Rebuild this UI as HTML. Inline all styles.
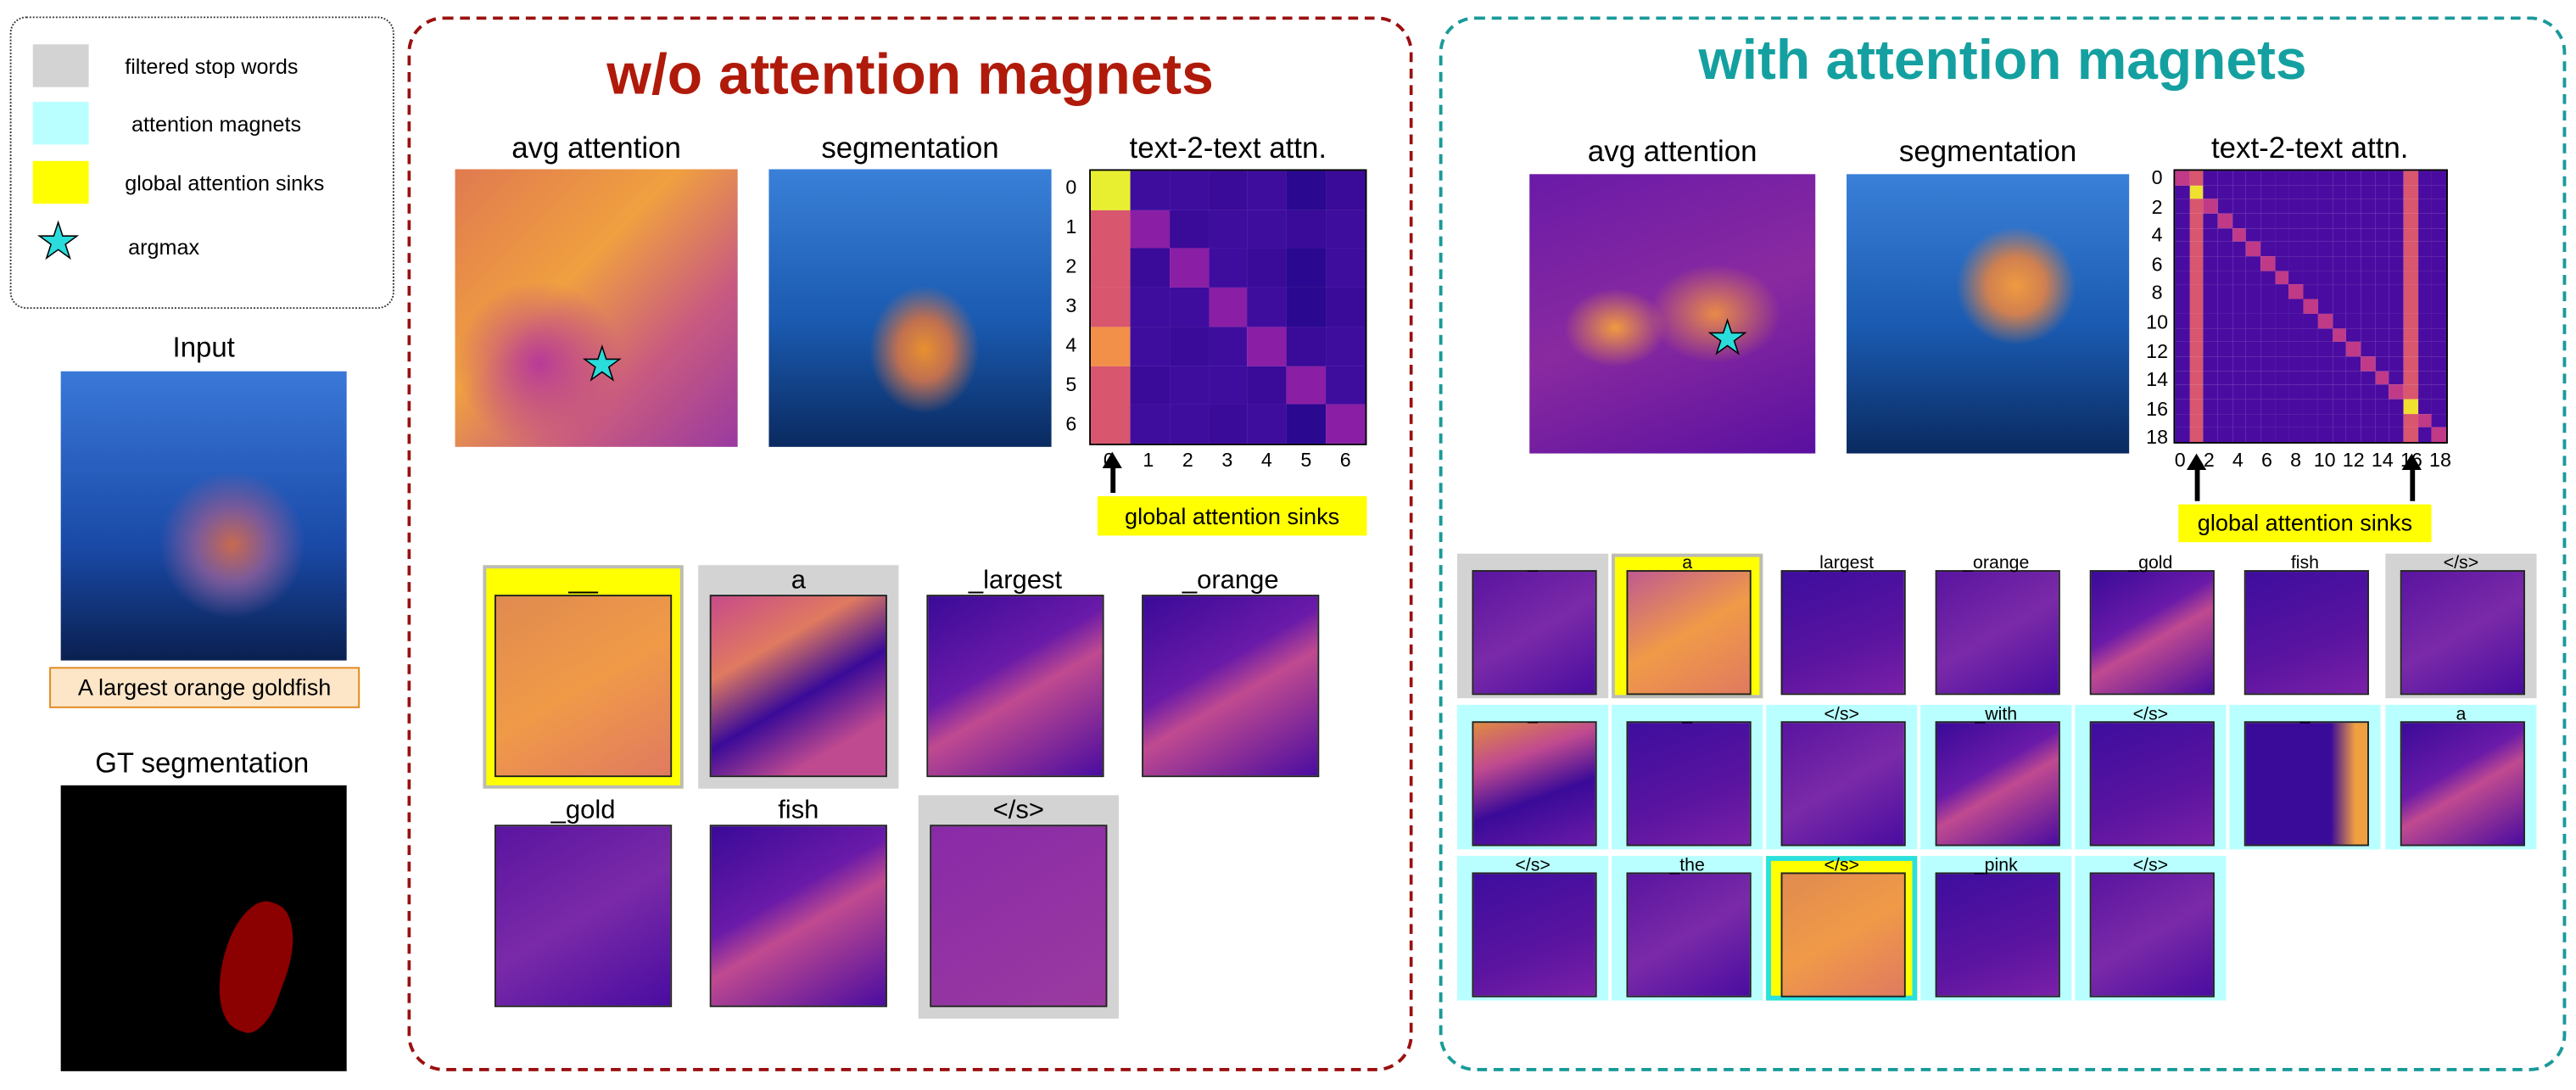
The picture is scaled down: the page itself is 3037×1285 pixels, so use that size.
<!DOCTYPE html>
<html><head><meta charset="utf-8"><style>
body{margin:0;background:#fff;width:3037px;height:1285px;overflow:hidden}
#w{position:absolute;left:0;top:0;width:1568px;height:663px;transform:scale(1.93686);transform-origin:0 0;font-family:"Liberation Sans",sans-serif}
.a{position:absolute}
.t{position:absolute;text-align:center;color:#000}
.hm{position:absolute;border:1px solid #222;box-sizing:border-box}
</style></head><body><div id="w">
<div class="a" style="left:6px;top:10px;width:232px;height:176px;border:1.5px dotted #333;border-radius:10px"></div>
<div class="a" style="left:20px;top:27px;width:34px;height:26px;background:#d3d3d3"></div>
<div class="a" style="left:20px;top:62px;width:34px;height:26px;background:#b9ffff"></div>
<div class="a" style="left:20px;top:98px;width:34px;height:26px;background:#ffff00"></div>
<div class="t" style="left:22px;top:133px;font-size:30px;color:#2bdcdc;-webkit-text-stroke:0.8px #000;line-height:30px">★</div>
<div class="a" style="left:76px;top:33px;font-size:13px">filtered stop words</div>
<div class="a" style="left:80px;top:68px;font-size:13px">attention magnets</div>
<div class="a" style="left:76px;top:104px;font-size:13px">global attention sinks</div>
<div class="a" style="left:78px;top:143px;font-size:13px">argmax</div>
<div class="t" style="left:37px;width:174px;top:202px;font-size:17px">Input</div>
<div class="a" style="left:37px;top:226px;width:174px;height:176px;background:radial-gradient(ellipse at 60% 60%,#c86a50 0,#7a5a9a 15%,transparent 30%),linear-gradient(180deg,#3a78d8,#1a4aa8 60%,#0a2050)"></div>
<div class="a" style="left:30px;top:406px;width:187px;height:23px;background:#fde6c8;border:1.5px solid #e08a20;font-size:14px;line-height:23px;text-align:center">A largest orange goldfish</div>
<div class="t" style="left:20px;width:206px;top:455px;font-size:17px">GT segmentation</div>
<div class="a" style="left:37px;top:478px;width:174px;height:174px;background:#000"></div>
<div class="a" style="left:135px;top:548px;width:40px;height:80px;background:#8b0000;border-radius:40% 50% 30% 60%;transform:rotate(20deg)"></div>
<div class="a" style="left:248px;top:10px;width:612px;height:642px;border:2px dashed #9b1010;border-radius:22px;box-sizing:border-box"></div>
<div class="t" style="left:248px;width:612px;top:26px;font-size:35px;font-weight:bold;color:#b01a0a">w/o attention magnets</div>
<div class="t" style="left:277px;width:172px;top:80px;font-size:18px">avg attention</div>
<div class="t" style="left:468px;width:172px;top:80px;font-size:18px">segmentation</div>
<div class="t" style="left:645px;width:205px;top:80px;font-size:18px">text-2-text attn.</div>
<div class="a" style="left:277px;top:103px;width:172px;height:169px;background:radial-gradient(ellipse at 30% 70%,#b83a98 0,transparent 30%),linear-gradient(135deg,#e07a50,#f0a040 40%,#c85a80 70%,#9a3aa0)"></div>
<div class="t" style="left:354px;top:208px;font-size:28px;color:#2bdcdc;-webkit-text-stroke:0.8px #000;line-height:28px">★</div>
<div class="a" style="left:468px;top:103px;width:172px;height:169px;background:radial-gradient(ellipse at 55% 65%,#e89030 0,#c07050 12%,transparent 25%),linear-gradient(180deg,#3a80d8,#1a5ab0 55%,#0a2a60)"></div>
<div id="m1" class="a" style="left:663px;top:103px;width:169px;height:168px;border:1px solid #000;box-sizing:border-box;display:grid;grid-template-columns:repeat(7,1fr)"></div>
<div class="a" style="left:668px;top:302px;width:164px;height:24px;background:#ffff00;font-size:14px;line-height:24px;text-align:center">global attention sinks</div>
<div class="a" style="left:876px;top:10px;width:686px;height:642px;border:2px dashed #1a9a9a;border-radius:22px;box-sizing:border-box"></div>
<div class="t" style="left:876px;width:686px;top:18px;font-size:34px;font-weight:bold;color:#14a0a0">with attention magnets</div>
<div class="t" style="left:931px;width:174px;top:82px;font-size:18px">avg attention</div>
<div class="t" style="left:1124px;width:172px;top:82px;font-size:18px">segmentation</div>
<div class="t" style="left:1296px;width:220px;top:80px;font-size:18px">text-2-text attn.</div>
<div class="a" style="left:931px;top:106px;width:174px;height:170px;background:radial-gradient(ellipse at 30% 55%,#f09a40 0,transparent 18%),radial-gradient(ellipse at 65% 50%,#e88a48 0,transparent 25%),linear-gradient(160deg,#6a1aa8,#8a2aa0 50%,#5a10a0)"></div>
<div class="t" style="left:1039px;top:192px;font-size:28px;color:#2bdcdc;-webkit-text-stroke:0.8px #000;line-height:28px">★</div>
<div class="a" style="left:1124px;top:106px;width:172px;height:170px;background:radial-gradient(ellipse at 60% 40%,#f09a40 0,#d08050 12%,transparent 25%),linear-gradient(180deg,#3a80d8,#1a5ab0 55%,#0a2a60)"></div>
<div id="m2" class="a" style="left:1323px;top:103px;width:167px;height:167px;border:1px solid #000;box-sizing:border-box;display:grid;grid-template-columns:repeat(19,1fr)"></div>
<div class="a" style="left:1326px;top:307px;width:154px;height:23px;background:#ffff00;font-size:14px;line-height:23px;text-align:center">global attention sinks</div>
<div id="extra"></div>
</div>
<script>
function cell(c){var d=document.createElement('div');d.style.background=c;return d}
var m1=document.getElementById('m1');
for(var r=0;r<7;r++)for(var c=0;c<7;c++){var col='#3e0d9e';if(c==0)col=['#e8ef30','#d8566e','#d8566e','#d8566e','#f2904a','#d8566e','#d8566e'][r];else if(r==c)col='#8a1fa6';else if((r+c)%3==0)col='#3a0a98';else if(c==5)col='#2a0890';m1.appendChild(cell(col))}
var m2=document.getElementById('m2');
for(var r=0;r<19;r++)for(var c=0;c<19;c++){var col='#4a0ca0';if(c==1||c==16){col=(r==1&&c==1)||(r==16&&c==16)?'#f0e030':'#d8566e'}else if(r==c)col='#c03a88';m2.appendChild(cell(col))}
var ex=document.getElementById('extra'),h='';
function T(x,y,w,s,t){h+='<div class="t" style="left:'+x+'px;top:'+y+'px;width:'+w+'px;font-size:'+s+'px">'+t+'</div>'}
for(var i=0;i<7;i++){T(645,103+i*24+4,14,12,i);T(663+i*24+5,273,14,12,i)}
for(var i=0;i<19;i+=2){T(1305,103+i*8.8-2,16,12,i);T(1323+i*8.8-4,273,16,12,i)}
function arr(x,y1,y2){h+='<div class="a" style="left:'+(x-1.5)+'px;top:'+(y1+8)+'px;width:3px;height:'+(y2-y1-8)+'px;background:#000"></div><div class="a" style="left:'+(x-6)+'px;top:'+y1+'px;width:0;height:0;border-left:6px solid transparent;border-right:6px solid transparent;border-bottom:10px solid #000"></div>'}
arr(677,275,300);arr(1337,276,305);arr(1468,276,305);
var P=['linear-gradient(150deg,#5a14a0,#7a2aa8 50%,#4a0ca0)','linear-gradient(150deg,#3a0a98,#6a1aa8 40%,#c04a90 55%,#4a0ca0)','linear-gradient(160deg,#3e0d9e,#5a14a0 60%,#7a20a8)'];
function tile(x,y,w,hh,bg,lab,img,fs,border,g){h+='<div class="a" style="left:'+x+'px;top:'+y+'px;width:'+w+'px;height:'+hh+'px;background:'+bg+';'+(border||'')+';box-sizing:border-box"></div>';
var ix=x+w*g[0],iw=w*g[1],iy=y+hh*g[2],ih=hh*g[3];
h+='<div class="hm" style="left:'+ix+'px;top:'+iy+'px;width:'+iw+'px;height:'+ih+'px;background:'+img+'"></div>';
T(x,y+hh*0.005,w,fs,lab)}
var orange='linear-gradient(150deg,#e08a50,#f09a48 50%,#e07a60)';
var lw=[[294,344,'#ffff00','__',orange,'border:2px solid #bbb'],[425,344,'#d3d3d3','a','linear-gradient(150deg,#c84a8a,#e07a60 30%,#3a0a98 55%,#c04a90 80%)'],[557,344,'#fff','_largest',P[1]],[688,344,'#fff','_orange',P[1]],[294,484,'#fff','_gold',P[0]],[425,484,'#fff','fish',P[1]],[559,484,'#d3d3d3','&lt;/s&gt;','linear-gradient(150deg,#8a2aa8,#9a3aa0)']];
lw.forEach(function(a){tile(a[0],a[1],122,136,a[2],a[3],a[4],16,a[5],[0.06,0.88,0.13,0.82])});
var cols=[887,981,1075,1169,1263,1357,1452],ry=[337,429,521];
var R=[[['#d3d3d3','_'],['#ffff00','a',orange.replace(/#e08a50/,'#c05a90'),'border:2px solid #bbb'],['#fff','_largest'],['#fff','_orange'],['#fff','_gold'],['#fff','fish'],['#d3d3d3','&lt;/s&gt;']],
[['#b9ffff','_','linear-gradient(160deg,#e08a40,#c04a90 30%,#3a0a98 60%,#6a1aa8)'],['#b9ffff','_'],['#b9ffff','&lt;/s&gt;'],['#b9ffff','_with'],['#b9ffff','&lt;/s&gt;'],['#b9ffff','_','linear-gradient(90deg,#3a0a98 70%,#f0a040 90%)'],['#b9ffff','a']],
[['#b9ffff','&lt;/s&gt;'],['#b9ffff','_the'],['#ffff00','&lt;/s&gt;',orange,'border:3px solid #2ae0e0'],['#b9ffff','_pink'],['#b9ffff','&lt;/s&gt;']]];
R.forEach(function(row,ri){row.forEach(function(a,ci){tile(cols[ci],ry[ri],92,88,a[0],a[1],a[2]||P[(ri+ci)%3],11,a[3],[0.1,0.82,0.11,0.87])})});
ex.innerHTML=h;
</script>
</body></html>
